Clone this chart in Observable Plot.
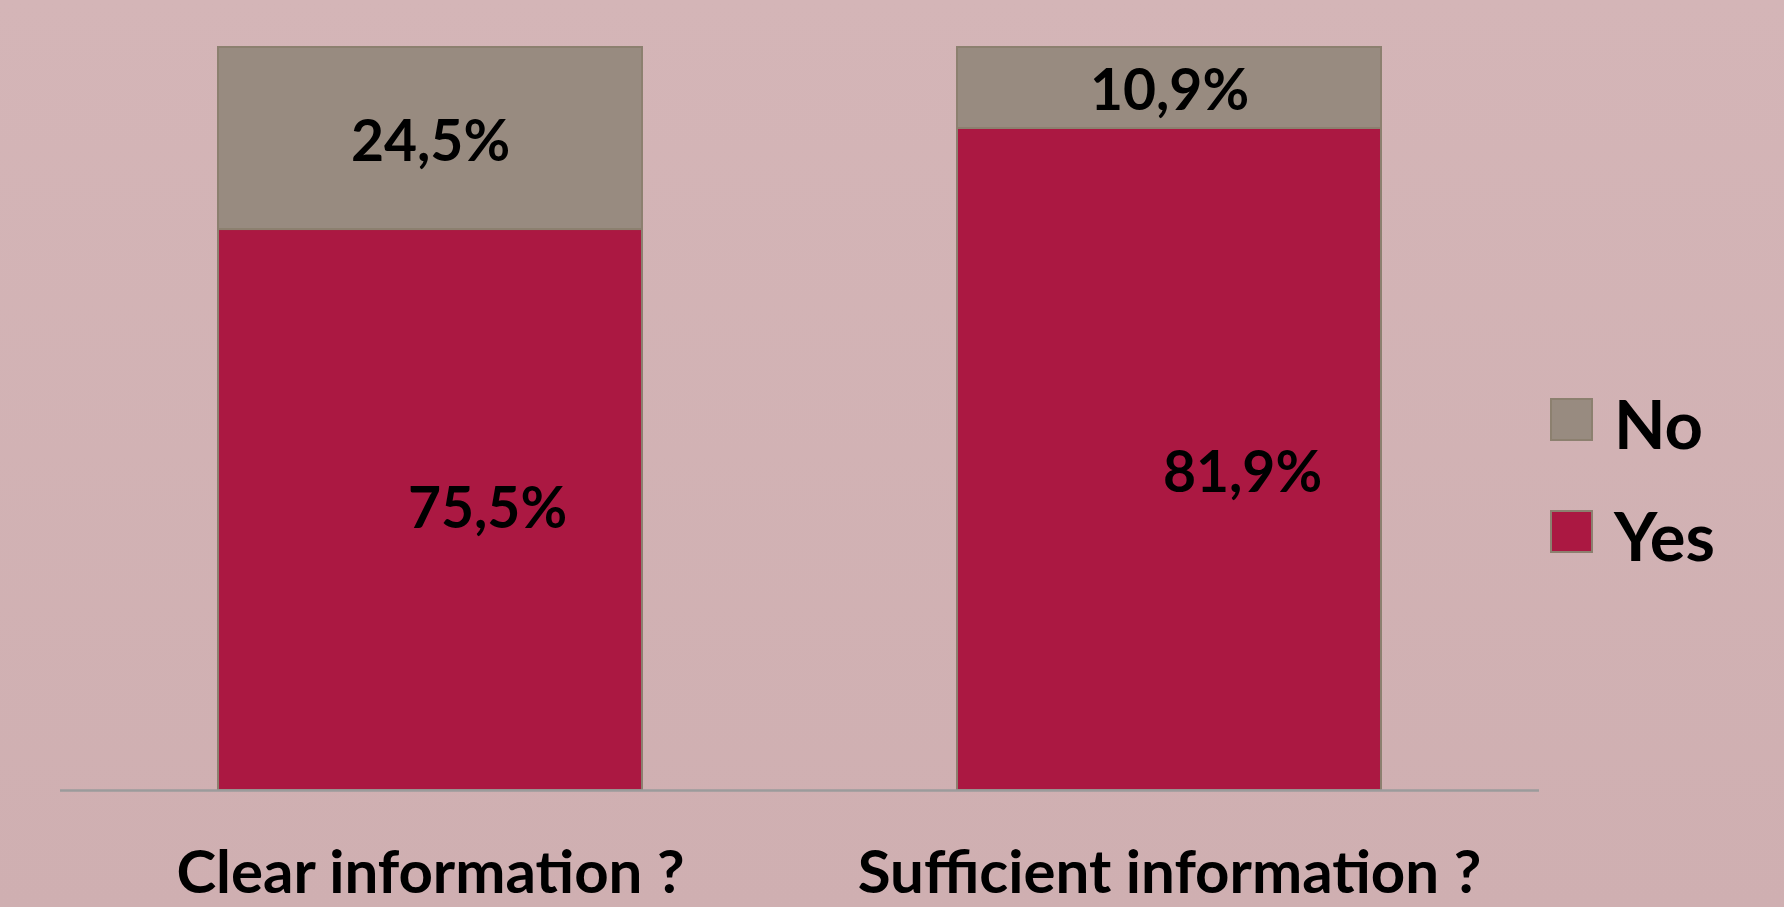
<!DOCTYPE html>
<html>
<head>
<meta charset="utf-8">
<script src="https://cdn.jsdelivr.net/npm/d3@7"></script>
<script src="https://cdn.jsdelivr.net/npm/@observablehq/plot@0.6"></script>
<style>
  html, body { margin: 0; padding: 0; overflow: hidden; }
  body { width: 1784px; height: 907px; background: linear-gradient(#d4b5b7, #cfafb1); font-family: Lato, sans-serif; }
  #chart svg { display: block; }
</style>
</head>
<body>
<div id="chart"></div>
<script>
// ---- data ----
const questions = ["Clear information ?", "Sufficient information ?"];
const answers = ["Yes", "No"];
const yesValues = [75.5, 89.1];
const noValues = [24.5, 10.9];
const yesLabels = ["75,5%", "81,9%"];
const noLabels = ["24,5%", "10,9%"];
const legendOrder = ["No", "Yes"];

const colors = {No: "#988b80", Yes: "#ab1842"};
const outline = "#8c806f";

const rows = [];
questions.forEach((q, i) => {
  rows.push({question: q, answer: "Yes", value: yesValues[i], label: yesLabels[i]});
  rows.push({question: q, answer: "No", value: noValues[i], label: noLabels[i]});
});

const labelFont = 57;
const labelText = (pred) => (d) => pred(d) ? d.label : "";
const stackedLabel = (pred, extra) => Plot.text(rows, Plot.stackY({
  x: "question", y: "value", z: "answer", order: answers, text: labelText(pred),
  fontSize: labelFont, fontWeight: "bold", fill: "black", ...extra
}));

const chart = Plot.plot({
  width: 1784,
  height: 907,
  marginTop: 47,
  marginBottom: 117,
  marginLeft: 60,
  marginRight: 245,
  style: {fontFamily: "Lato, sans-serif", fontWeight: "bold", background: "transparent", color: "black"},
  x: {domain: questions, paddingInner: 0.4266, paddingOuter: 0.2133, label: null},
  y: {domain: [0, 100], axis: null},
  color: {domain: legendOrder, range: legendOrder.map(d => colors[d])},
  marks: [
    Plot.barY(rows, {x: "question", y: "value", fill: "answer", stroke: outline, strokeWidth: 2, order: answers}),
    Plot.ruleY([0], {stroke: "#9b9b9b", strokeWidth: 2.5}),
    Plot.axisX({tickSize: 0, tickPadding: 60, fontSize: 60, fontWeight: "bold", fill: "black", label: null}),
    // "No" labels, centered in their segment
    stackedLabel(d => d.answer === "No", {dy: 4}),
    // "Yes" labels (manually offset in the original)
    stackedLabel(d => d.answer === "Yes" && d.question === questions[0], {dx: 57, dy: 0}),
    stackedLabel(d => d.answer === "Yes" && d.question === questions[1], {dx: 73, dy: 14})
  ]
});

document.getElementById("chart").appendChild(chart);

// ---- legend (right side) ----
const svg = d3.select(chart);
const lg = svg.append("g").attr("transform", "translate(1550,398)");
legendOrder.forEach((name, i) => {
  const g = lg.append("g").attr("transform", `translate(0,${i * 112})`);
  g.append("rect").attr("x", 1).attr("y", 1).attr("width", 41).attr("height", 41)
    .attr("fill", colors[name]).attr("stroke", outline).attr("stroke-width", 2);
  g.append("text").attr("x", 64).attr("y", 51).attr("text-anchor", "start")
    .attr("font-family", "Lato, sans-serif").attr("font-weight", "bold")
    .attr("font-size", 67).attr("fill", "black").text(name);
});
</script>
</body>
</html>
